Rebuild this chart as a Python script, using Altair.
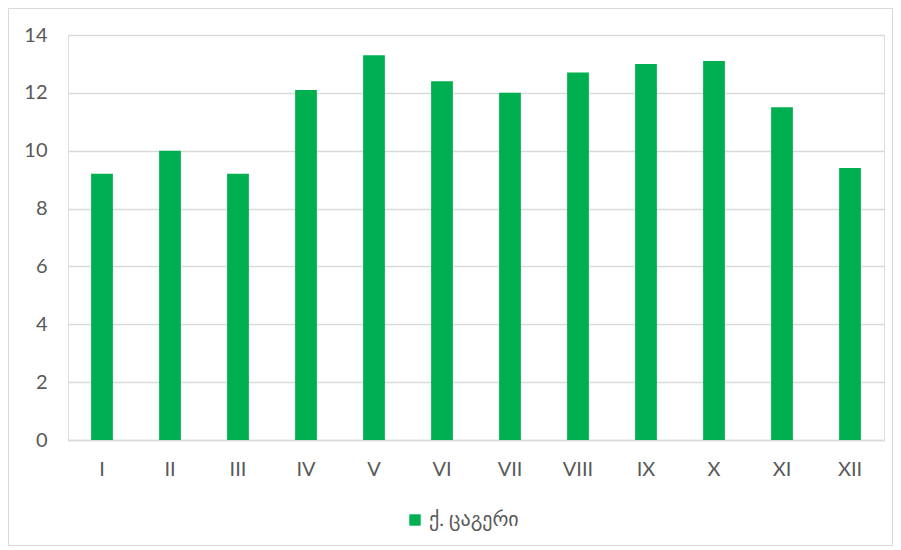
import altair as alt
import pandas as pd

months = ["I", "II", "III", "IV", "V", "VI", "VII", "VIII", "IX", "X", "XI", "XII"]
values = [9.2, 10.0, 9.2, 12.1, 13.3, 12.4, 12.0, 12.7, 13.0, 13.1, 11.5, 9.4]
series_name = "ქ. ცაგერი"

df = pd.DataFrame({"month": months, "value": values, "series": [series_name] * len(months)})

W, H = 816, 405
PL, PT, PR, PB = 60, 27, 9, 106
FONT = "Lato, DejaVu Sans, sans-serif"

bars = alt.Chart(df).mark_bar(color="#00B050").encode(
    x=alt.X("month:N", sort=months, title=None,
            scale=alt.Scale(paddingInner=0.68, paddingOuter=0.34),
            axis=alt.Axis(labelAngle=0, ticks=False, domain=True, domainColor="#D9D9D9",
                          domainWidth=1.3, labelPadding=19, labelFontSize=20,
                          labelColor="#595959", labelFont=FONT, grid=False)),
    y=alt.Y("value:Q", title=None,
            scale=alt.Scale(domain=[0, 14], nice=False),
            axis=alt.Axis(values=[0, 2, 4, 6, 8, 10, 12, 14], ticks=False, domain=False,
                          gridColor="#D9D9D9", gridWidth=1.3, labelPadding=21,
                          labelFontSize=20, labelColor="#595959", labelFont=FONT)),
    color=alt.Color("series:N", scale=alt.Scale(range=["#00B050"]),
                    legend=alt.Legend(title=None, orient="none", legendX=337, legendY=475,
                                      symbolType="square", symbolSize=130,
                                      symbolStrokeWidth=0, labelFontSize=20,
                                      labelColor="#595959", labelFont=FONT,
                                      labelOffset=4)),
)

border = alt.Chart(pd.DataFrame({"a": [0]})).mark_rect(
    fill=None, stroke="#D9D9D9", strokeWidth=1
).encode(
    x=alt.value(-PL + 0.5), x2=alt.value(W + PR - 0.5),
    y=alt.value(-PT + 0.5), y2=alt.value(H + PB - 0.5),
)

chart = alt.layer(border, bars).properties(
    width=W, height=H,
    autosize=alt.AutoSizeParams(type="none"),
    padding={"left": PL, "top": PT, "right": PR, "bottom": PB},
).configure_view(stroke=None).configure(background="white")

chart.save("out.html", embed_options={"renderer": "svg", "actions": False})
